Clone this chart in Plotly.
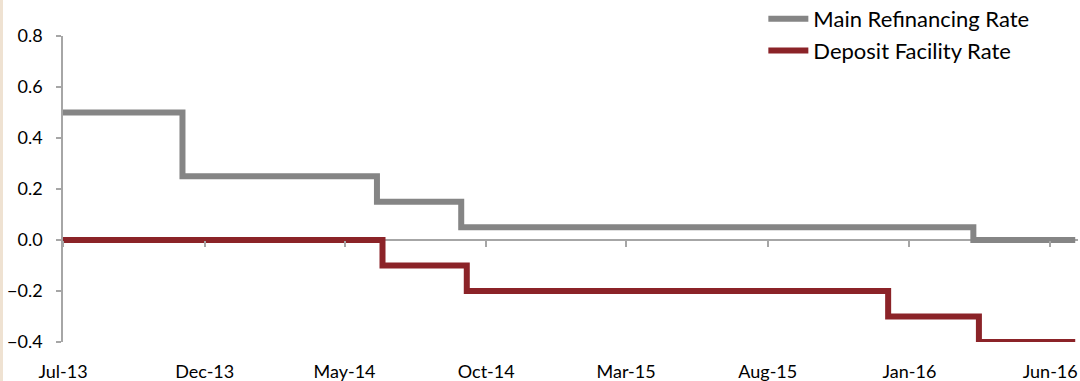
import plotly.graph_objects as go

# ECB policy rates (%), step changes
mro_dates = ["2013-07-01", "2013-11-07", "2014-06-05", "2014-09-04", "2016-03-10", "2016-06-28"]
mro_rates = [0.50, 0.25, 0.15, 0.05, 0.00, 0.00]

dfr_dates = ["2013-07-01", "2014-06-11", "2014-09-10", "2015-12-09", "2016-03-16", "2016-06-28"]
dfr_rates = [0.00, -0.10, -0.20, -0.30, -0.40, -0.40]

tick_dates = ["2013-07-01", "2013-12-01", "2014-05-01", "2014-10-01",
              "2015-03-01", "2015-08-01", "2016-01-01", "2016-06-01"]
tick_labels = ["Jul-13", "Dec-13", "May-14", "Oct-14", "Mar-15", "Aug-15", "Jan-16", "Jun-16"]

y_min, y_max = -0.4, 0.8
x_range = ["2013-07-01", "2016-07-01"]

GRAY = "#858585"
RED = "#8B2328"
AXIS = "#A6A6A6"
FONT = "Lato"

fig = go.Figure()
fig.add_trace(go.Scatter(
    x=mro_dates, y=mro_rates, mode="lines", name="Main Refinancing Rate",
    line=dict(color=GRAY, width=6, shape="hv"), legendgroup="a",
))
fig.add_trace(go.Scatter(
    x=dfr_dates, y=dfr_rates, mode="lines", name="Deposit Facility Rate",
    line=dict(color=RED, width=6, shape="hv"), legendgroup="b",
))
# tick marks hanging from the zero line
fig.add_trace(go.Scatter(x=[x_range[0]], y=[0], xaxis="x2", mode="markers",
                         marker=dict(opacity=0), showlegend=False, hoverinfo="skip"))

fig.update_layout(
    width=1080, height=381,
    margin=dict(l=63, r=2, t=36, b=39, autoexpand=False),
    paper_bgcolor="white", plot_bgcolor="white",
    font=dict(family=FONT, size=18, color="#000000"),
    showlegend=True,
    legend=dict(x=0.69, y=1.124, xanchor="left", yanchor="top",
                bgcolor="rgba(0,0,0,0)", font=dict(size=22, family=FONT),
                tracegroupgap=0, itemwidth=40),
    xaxis=dict(
        type="date", range=x_range, tickvals=tick_dates, ticktext=tick_labels,
        showgrid=False, zeroline=False, showline=False, ticks="",
        ticklabelstandoff=17, tickfont=dict(size=18, family=FONT),
    ),
    xaxis2=dict(
        type="date", range=x_range, tickvals=tick_dates, overlaying="x",
        anchor="free", position=(0 - y_min) / (y_max - y_min),
        showgrid=False, zeroline=False, showline=False,
        ticks="outside", ticklen=6, tickcolor=AXIS, tickwidth=1.5,
        showticklabels=False,
    ),
    yaxis=dict(
        range=[y_min, y_max], tickvals=[-0.4, -0.2, 0.0, 0.2, 0.4, 0.6, 0.8],
        tickformat=".1f", showgrid=False,
        zeroline=True, zerolinecolor=AXIS, zerolinewidth=1.5,
        showline=True, linecolor=AXIS, linewidth=1.5,
        ticks="outside", ticklen=5, tickcolor=AXIS, tickwidth=1.5,
        tickfont=dict(size=18, family=FONT), ticklabelstandoff=10,
    ),
)

# thin beige border strip at the left edge of the page
fig.add_shape(type="rect", xref="paper", yref="paper",
              x0=-63 / 1015, x1=-60 / 1015, y0=-39 / 306, y1=1 + 36 / 306,
              fillcolor="#EFE2D2", line=dict(width=0), layer="below")

fig.write_html("out.html")
